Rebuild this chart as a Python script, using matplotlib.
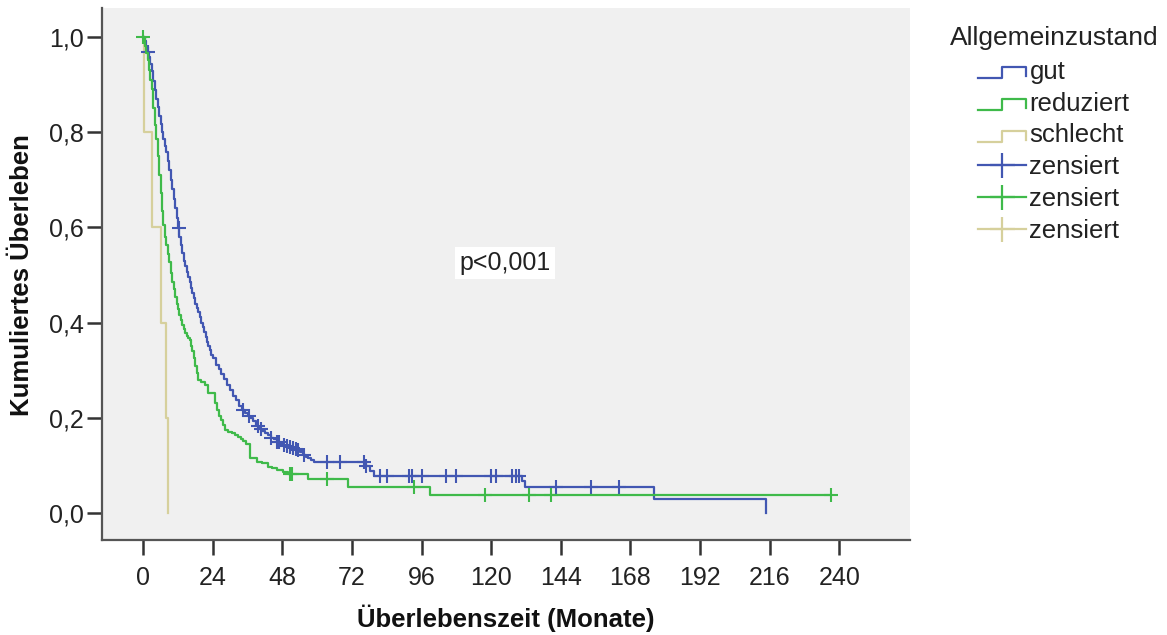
import numpy as np
import matplotlib
matplotlib.use("Agg")
import matplotlib.pyplot as plt
from matplotlib.lines import Line2D
from matplotlib.legend_handler import HandlerBase

plt.rcParams['font.family'] = ['Liberation Sans', 'DejaVu Sans']

# ---------------- data ----------------
group_labels = ["gut", "reduziert", "schlecht"]
censor_label = "zensiert"
legend_title = "Allgemeinzustand"
x_label = "Überlebenszeit (Monate)"
y_label = "Kumuliertes Überleben"
p_text = "p<0,001"

x_ticks = [0, 24, 48, 72, 96, 120, 144, 168, 192, 216, 240]
y_ticks = [0.0, 0.2, 0.4, 0.6, 0.8, 1.0]
y_tick_labels = ["0,0", "0,2", "0,4", "0,6", "0,8", "1,0"]

# gut: step times (months) and survival after each step
gut_t = [0, 0.5, 1, 1.5, 2, 2.5, 3, 3.5, 4, 4.5, 5, 5.5, 6, 6.5, 7, 7.5, 8, 8.5,
         9, 9.5, 10, 10.5, 11, 11.5, 12, 12.5, 13, 13.5, 14, 14.5, 15, 15.5, 16,
         16.5, 17, 17.5, 18, 18.5, 19, 19.5, 20, 20.5, 21, 21.5, 22, 22.5, 23,
         23.5, 24, 25, 26, 27, 28, 29, 30, 31, 32, 33, 34, 35, 36, 37, 38, 39,
         40, 41, 42, 43, 44, 45, 46, 47, 48, 49, 50, 51, 52, 53, 54, 55, 56, 57,
         58, 59, 77.0, 78.2, 79.5, 130.5, 131.8, 176.2, 214.8]
gut_s = [1.0, 0.99, 0.978, 0.968, 0.957, 0.943, 0.927, 0.907, 0.888, 0.87, 0.852,
         0.834, 0.817, 0.8, 0.785, 0.771, 0.757, 0.74, 0.721, 0.7, 0.68, 0.66,
         0.64, 0.619, 0.598, 0.58, 0.562, 0.546, 0.53, 0.518, 0.507, 0.496, 0.485,
         0.473, 0.462, 0.451, 0.44, 0.431, 0.422, 0.411, 0.4, 0.39, 0.38, 0.37,
         0.36, 0.351, 0.342, 0.333, 0.325, 0.312, 0.302, 0.292, 0.281, 0.27,
         0.258, 0.247, 0.237, 0.226, 0.216, 0.21, 0.205, 0.2, 0.194, 0.184, 0.176,
         0.172, 0.168, 0.164, 0.159, 0.155, 0.15, 0.147, 0.144, 0.141, 0.139,
         0.137, 0.135, 0.132, 0.128, 0.123, 0.119, 0.115, 0.111, 0.108, 0.100,
         0.089, 0.078, 0.067, 0.056, 0.029, 0.0]
gut_end = 214.8
gut_cens = [1.7, 12.4, 34.5, 36.5, 39.7, 40.5, 44.0, 46.0, 46.9, 48.5, 49.5, 50.5,
            51.5, 52.8, 53.5, 55.5, 63.4, 68.0, 76.3, 77.0, 81.8, 84.1, 91.6, 92.8,
            96.2, 104.3, 107.7, 119.8, 121.5, 127.3, 128.5, 129.6, 142.3, 154.3, 164.1]

# reduziert
red_t = [0, 0.5, 1, 1.5, 2, 2.5, 3, 3.5, 4, 4.5, 5, 5.5, 6, 6.5, 7, 7.5, 8, 8.5,
         9, 9.5, 10, 10.5, 11, 11.5, 12, 12.5, 13, 13.5, 14, 14.5, 15, 15.5, 16,
         16.5, 17, 17.5, 18, 18.5, 19, 20, 21.3, 22.4, 24.6, 25.3, 26.2, 27.0,
         27.6, 28.2, 29.3, 30.5, 31.6, 32.8, 33.6, 34.5, 35.5, 36.9, 39.1, 40.8,
         43.1, 44.5, 46.0, 48.3, 50.0, 56.9, 70.5, 99.0]
red_s = [1.0, 0.98, 0.965, 0.95, 0.93, 0.91, 0.89, 0.85, 0.815, 0.785, 0.75, 0.71,
         0.672, 0.635, 0.605, 0.58, 0.562, 0.545, 0.527, 0.505, 0.486, 0.47,
         0.454, 0.44, 0.428, 0.416, 0.405, 0.395, 0.386, 0.378, 0.372, 0.368,
         0.364, 0.352, 0.34, 0.326, 0.31, 0.295, 0.28, 0.275, 0.269, 0.252, 0.232,
         0.217, 0.205, 0.196, 0.185, 0.175, 0.171, 0.168, 0.165, 0.161, 0.156,
         0.152, 0.146, 0.115, 0.108, 0.105, 0.098, 0.094, 0.091, 0.087, 0.083,
         0.073, 0.056, 0.038]
red_end = 237.0
red_cens = [0.0, 50.5, 51.3, 63.4, 93.3, 118.0, 133.0, 140.5, 237.0]

# schlecht
sch_t = [0, 0.25, 3.2, 6.3, 7.8, 8.4]
sch_s = [1.0, 0.8, 0.6, 0.4, 0.2, 0.0]
sch_end = 8.4
sch_cens = []

colors = ["#4257B2", "#3FBA4A", "#D6D09C"]


def surv_at(times, surv, t):
    idx = np.searchsorted(np.asarray(times), t, side="right") - 1
    return np.asarray(surv)[np.clip(idx, 0, len(surv) - 1)]


# ---------------- figure ----------------
W, H = 1167, 635
fig = plt.figure(figsize=(W / 100, H / 100), dpi=100)
ax = fig.add_axes([102 / W, 1 - 540 / H, (910 - 102) / W, (540 - 8) / H])
ax.set_facecolor("#F0F0F0")

groups = [(gut_t, gut_s, gut_end, gut_cens),
          (red_t, red_s, red_end, red_cens),
          (sch_t, sch_s, sch_end, sch_cens)]
zorders = [3, 4, 2]
step_handles = []
cens_handles = []
for (tt, ss, end, cens), col, z, lab in zip(groups, colors, zorders, group_labels):
    xs = list(tt) + ([end] if end > tt[-1] else [])
    ys = list(ss) + ([ss[-1]] if end > tt[-1] else [])
    ln, = ax.step(xs, ys, where="post", color=col, lw=1.6, zorder=z)
    step_handles.append(ln)
    if len(cens):
        ax.plot(cens, surv_at(tt, ss, cens), linestyle="none", marker="+",
                color=col, markersize=10, markeredgewidth=1.5, zorder=z + 0.5)
    cens_handles.append(Line2D([0], [0], color=col, lw=1.6, marker="+",
                               markersize=18, markeredgewidth=1.6))

ax.set_xlim(-14.2, 264.4)
ax.set_ylim(-0.056, 1.060)
ax.set_xticks(x_ticks)
ax.set_xticklabels([str(v) for v in x_ticks])
ax.set_yticks(y_ticks)
ax.set_yticklabels(y_tick_labels)

for sp in ["top", "right"]:
    ax.spines[sp].set_visible(False)
for sp in ["left", "bottom"]:
    ax.spines[sp].set_color("#555555")
    ax.spines[sp].set_linewidth(1.6)
ax.tick_params(axis="both", direction="out", length=11, width=1.8,
               color="#333333", labelsize=18, labelcolor="#222222")
ax.tick_params(axis="x", pad=8)
ax.tick_params(axis="y", pad=2)

fig.text(506 / W, 1 - 618 / H, x_label, ha="center", va="center",
         fontsize=18.5, fontweight="bold", color="#111111")
fig.text(22 / W, 1 - 275 / H, y_label, ha="center", va="center", rotation=90,
         fontsize=18.5, fontweight="bold", color="#111111")

fig.text(505 / W, 1 - 263 / H, p_text, ha="center", va="center",
         fontsize=18, color="#222222",
         bbox=dict(facecolor="white", edgecolor="none", pad=3))


class StepHandler(HandlerBase):
    def create_artists(self, legend, orig_handle, xdescent, ydescent, width,
                       height, fontsize, trans):
        x0, y0 = -xdescent, -ydescent
        xs = [x0, x0 + 0.5 * width, x0 + 0.5 * width, x0 + width, x0 + width]
        ys = [y0 + 0.05 * height, y0 + 0.05 * height, y0 + 0.65 * height,
              y0 + 0.65 * height, y0 + 0.15 * height]
        ln = Line2D(xs, ys, color=orig_handle.get_color(), lw=1.6)
        ln.set_transform(trans)
        return [ln]


handles = step_handles + cens_handles
labels = group_labels + [censor_label] * 3
hmap = {h: StepHandler() for h in step_handles}
fig.text(950 / W, 1 - 38 / H, legend_title, ha="left", va="center",
         fontsize=19, color="#222222")
leg = fig.legend(handles, labels, handler_map=hmap, loc="upper left",
                 bbox_to_anchor=(978 / W, 1 - 60 / H), frameon=False,
                 fontsize=18.5, handlelength=1.85, handletextpad=0.15,
                 labelspacing=0.3, borderpad=0, borderaxespad=0)
for t in leg.get_texts():
    t.set_color("#222222")

fig.savefig("out.png", dpi=100)
